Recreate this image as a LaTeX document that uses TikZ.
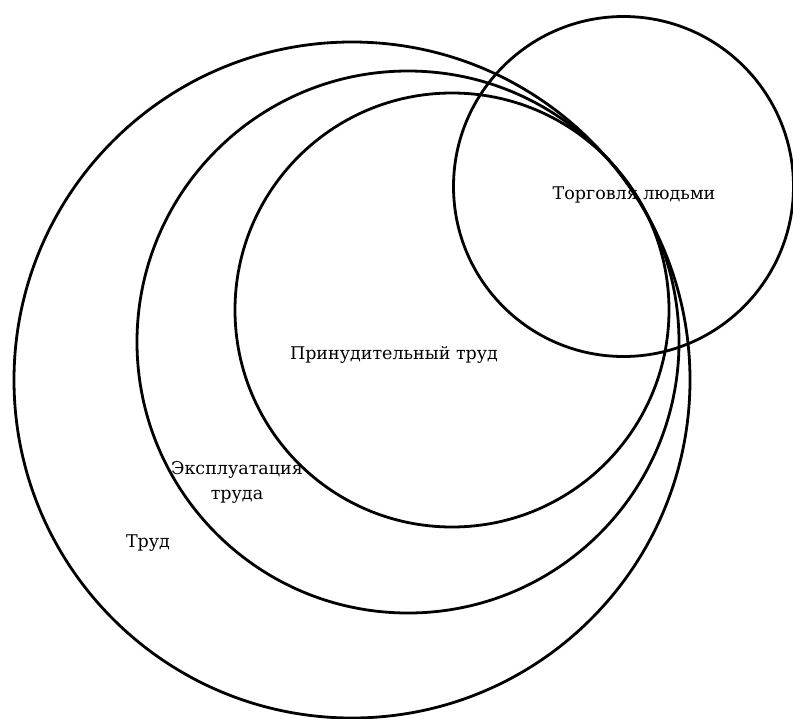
\documentclass[tikz,border=0pt]{standalone}
\usepackage{fontspec}
\setmainfont{DejaVu Serif}
\usetikzlibrary{shapes, backgrounds}

\begin{document}
\begin{tikzpicture}[x=1pt, y=-1pt]
  \tikzset{background rectangle/.style={fill=white}}
  \tikzset{inner frame sep=0pt, show background rectangle}

  \tikzset{area/.style={circle, draw, line width=2.8pt, inner sep=0pt}}
  \tikzset{caption/.style={font=\fontsize{17.5}{25}\selectfont, align=center, inner sep=1pt}}

  \useasboundingbox (0,0) rectangle (793,718);

  \node[area, minimum size=676pt] (Trud) at (352,380) {};
  \node[area, minimum size=542pt] (Ekspl) at (408,342) {};
  \node[area, minimum size=434pt] (Prin) at (452,310) {};
  \node[area, minimum size=340pt] (Torg) at (623.5,186.5) {};

  \node[caption] (tTorg) at (634,195) {Торговля людьми};
  \node[caption] (tPrin) at (394,355) {Принудительный труд};
  \node[caption] (tEkspl) at (237,482) {Эксплуатация\\труда};
  \node[caption] (tTrud) at (148,543) {Труд};
\end{tikzpicture}
\end{document}
